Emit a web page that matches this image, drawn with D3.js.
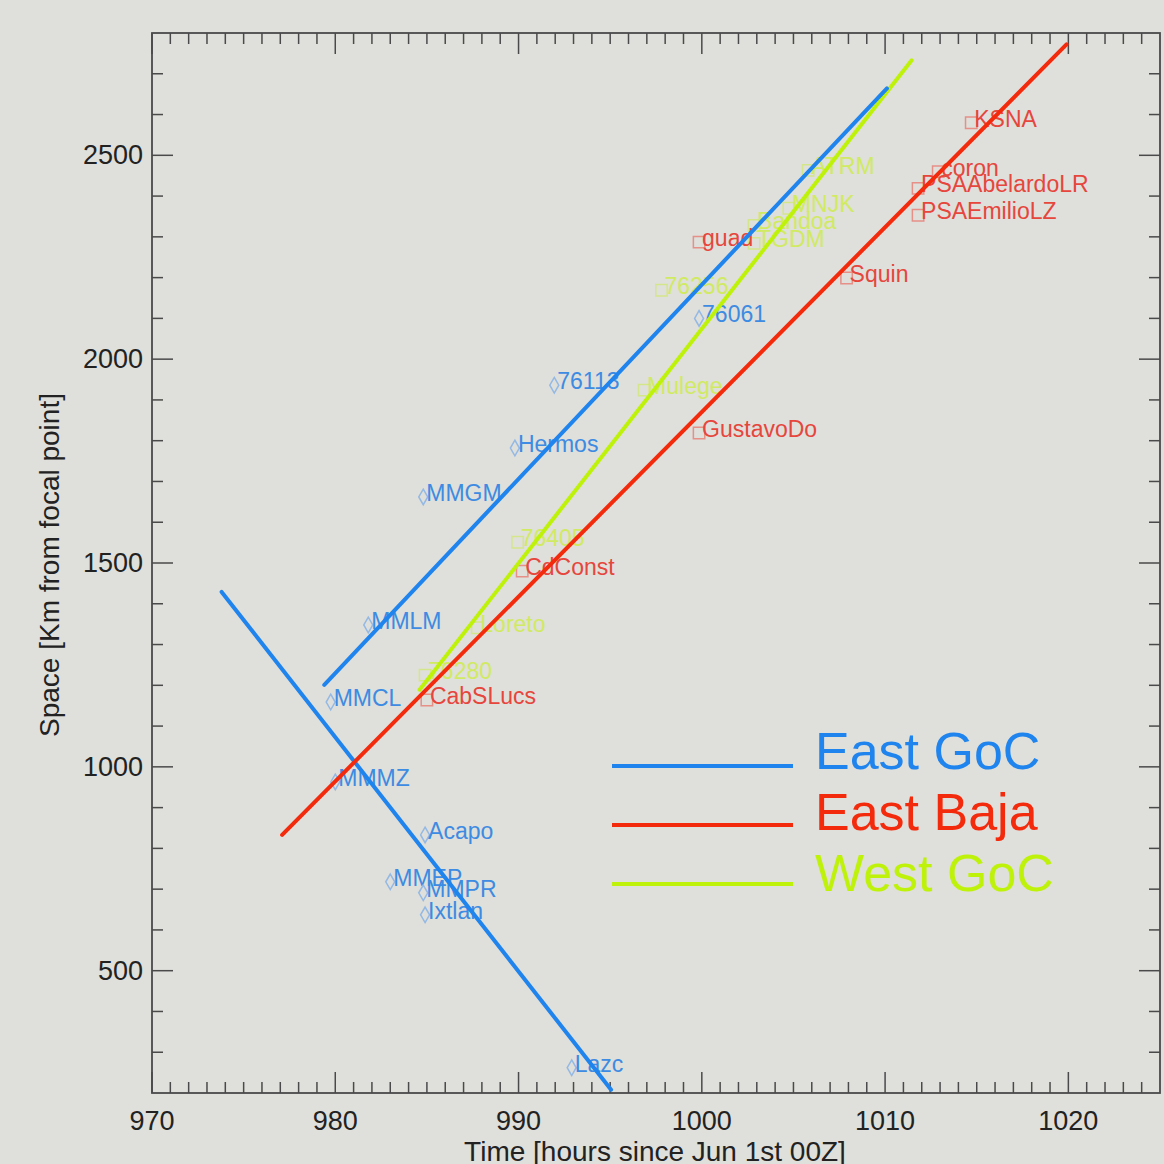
<!DOCTYPE html>
<html>
<head>
<meta charset="utf-8">
<script src="https://cdn.jsdelivr.net/npm/d3@7"></script>
<style>
  body { margin: 0; background: #dfdfdb; }
  text { font-family: "Liberation Sans", Arial, sans-serif; }
</style>
</head>
<body>
<div id="chart"></div>
<script>
// fitted lines (time in hours, space in km)
var eastGocUpT = [979.4, 1010.1], eastGocUpS = [1201, 2664];
var eastGocDownT = [973.8, 995.05], eastGocDownS = [1429, 208];
var eastBajaT = [977.1, 1019.9], eastBajaS = [833, 2772];
var westGocT = [984.6, 1011.45], westGocS = [1189, 2733];

// stations
var eastGocNames = ["76113", "Hermos", "MMGM", "MMLM", "MMCL", "MMMZ", "Acapo", "MMEP", "MMPR", "Ixtlan", "Lazc", "76061"];
var eastGocTimes = [991.95, 989.8, 984.8, 981.8, 979.75, 980.0, 984.9, 983.0, 984.8, 984.9, 992.9, 999.85];
var eastGocDist  = [1936, 1782, 1662, 1348, 1159, 963, 833, 718, 691, 637, 262, 2100];

var eastBajaNames = ["KSNA", "coron", "PSAAbelardoLR", "PSAEmilioLZ", "Squin", "guad", "GustavoDo", "CdConst", "CabSLucs"];
var eastBajaTimes = [1014.7, 1012.9, 1011.8, 1011.8, 1007.9, 999.85, 999.85, 990.2, 985.0];
var eastBajaDist  = [2580, 2460, 2419, 2353, 2199, 2287, 1819, 1480, 1164];

var westGocNames = ["ATRM", "MNJK", "Bandoa", "TGDM", "76256", "Mulege", "76405", "Loreto", "76280"];
var westGocTimes = [1005.8, 1004.75, 1002.85, 1002.85, 997.8, 996.85, 989.95, 987.75, 984.9];
var westGocDist  = [2463, 2370, 2328, 2284, 2169, 1924, 1551, 1341, 1225];

var legendNames = ["East GoC", "East Baja", "West GoC"];
var xTicks = [970, 980, 990, 1000, 1010, 1020];
var yTicks = [500, 1000, 1500, 2000, 2500];

var blue = "#1f84ee", red = "#f42a0c", green = "#bff20a";

var svg = d3.select("#chart").append("svg")
    .attr("width", 1164)
    .attr("height", 1164);

svg.append("rect").attr("width", 1164).attr("height", 1164).attr("fill", "#dfdfdb");

var x = d3.scaleLinear().domain([970, 1025]).range([152, 1160]);
var y = d3.scaleLinear().domain([200, 2800]).range([1093, 33]);

// frame and inward ticks
var axisColor = "#4a4a4a";
function ticks(g, vals, len, orient) {
  vals.forEach(function (v) {
    if (orient === "bottom") g.append("line").attr("x1", x(v)).attr("x2", x(v)).attr("y1", y(200)).attr("y2", y(200) - len);
    if (orient === "top") g.append("line").attr("x1", x(v)).attr("x2", x(v)).attr("y1", y(2800)).attr("y2", y(2800) + len);
    if (orient === "left") g.append("line").attr("x1", x(970)).attr("x2", x(970) + len).attr("y1", y(v)).attr("y2", y(v));
    if (orient === "right") g.append("line").attr("x1", x(1025)).attr("x2", x(1025) - len).attr("y1", y(v)).attr("y2", y(v));
  });
}
var tg = svg.append("g").attr("stroke", axisColor).attr("stroke-width", 1.5);
var xMinor = d3.range(971, 1025, 1).filter(function (d) { return d % 10 !== 0; });
var xMajor = d3.range(970, 1026, 10);
var yMinor = d3.range(300, 2800, 100).filter(function (d) { return d % 500 !== 0; });
ticks(tg, xMinor, 11, "bottom"); ticks(tg, xMajor, 21, "bottom");
ticks(tg, xMinor, 11, "top"); ticks(tg, xMajor, 21, "top");
ticks(tg, yMinor, 11, "left"); ticks(tg, yTicks, 21, "left");
ticks(tg, yMinor, 11, "right"); ticks(tg, yTicks, 21, "right");

svg.append("rect")
    .attr("x", x(970)).attr("y", y(2800))
    .attr("width", x(1025) - x(970)).attr("height", y(200) - y(2800))
    .attr("fill", "none").attr("stroke", axisColor).attr("stroke-width", 1.8);

// tick labels
svg.append("g").selectAll("text").data(xTicks).enter().append("text")
    .attr("x", function (d) { return x(d); })
    .attr("y", 1130)
    .attr("text-anchor", "middle")
    .attr("font-size", 27)
    .attr("fill", "#222")
    .text(function (d) { return d; });

svg.append("g").selectAll("text").data(yTicks).enter().append("text")
    .attr("x", 143)
    .attr("y", function (d) { return y(d) + 9; })
    .attr("text-anchor", "end")
    .attr("font-size", 27)
    .attr("fill", "#222")
    .text(function (d) { return d; });

// axis titles
svg.append("text")
    .attr("x", 655).attr("y", 1161)
    .attr("text-anchor", "middle")
    .attr("font-size", 28)
    .attr("fill", "#222")
    .text("Time [hours since Jun 1st 00Z]");

svg.append("text")
    .attr("transform", "translate(59,565) rotate(-90)")
    .attr("text-anchor", "middle")
    .attr("font-size", 28)
    .attr("fill", "#222")
    .text("Space [Km from focal point]");

// station markers and labels
function stations(names, times, dist, symbol, size, markColor, labelColor) {
  var g = svg.append("g");
  names.forEach(function (n, i) {
    g.append("path")
        .attr("d", d3.symbol().type(symbol).size(size)())
        .attr("transform", "translate(" + x(times[i]) + "," + y(dist[i]) + ")")
        .attr("fill", "none")
        .attr("stroke", markColor)
        .attr("stroke-width", 1.5);
    g.append("text")
        .attr("x", x(times[i]) + 3)
        .attr("y", y(dist[i]) + 4)
        .attr("font-size", 23)
        .attr("fill", labelColor)
        .text(n);
  });
}
stations(westGocNames, westGocTimes, westGocDist, d3.symbolSquare, 130, "#d4e68a", "#d0ea62");
stations(eastGocNames, eastGocTimes, eastGocDist, d3.symbolDiamond, 70, "#93b9e4", "#3d8be2");
stations(eastBajaNames, eastBajaTimes, eastBajaDist, d3.symbolSquare, 130, "#e69088", "#e6463c");

// fitted lines
var line = d3.line().x(function (d) { return x(d[0]); }).y(function (d) { return y(d[1]); });
function fit(ts, ss, color) {
  svg.append("path")
      .datum(d3.zip(ts, ss))
      .attr("d", line)
      .attr("fill", "none")
      .attr("stroke", color)
      .attr("stroke-width", 4)
      .attr("stroke-linecap", "round");
}
fit(eastGocDownT, eastGocDownS, blue);
fit(eastBajaT, eastBajaS, red);
fit(westGocT, westGocS, green);
fit(eastGocUpT, eastGocUpS, blue);

// legend
var legendColors = [blue, red, green];
var lg = svg.append("g");
legendNames.forEach(function (n, i) {
  var ly = 766 + i * 59;
  lg.append("line")
      .attr("x1", 612).attr("x2", 793)
      .attr("y1", ly).attr("y2", ly)
      .attr("stroke", legendColors[i]).attr("stroke-width", 4);
  lg.append("text")
      .attr("x", 815).attr("y", ly + 3 + i * 2)
      .attr("font-size", 52)
      .attr("fill", legendColors[i])
      .text(n);
});
</script>
</body>
</html>
